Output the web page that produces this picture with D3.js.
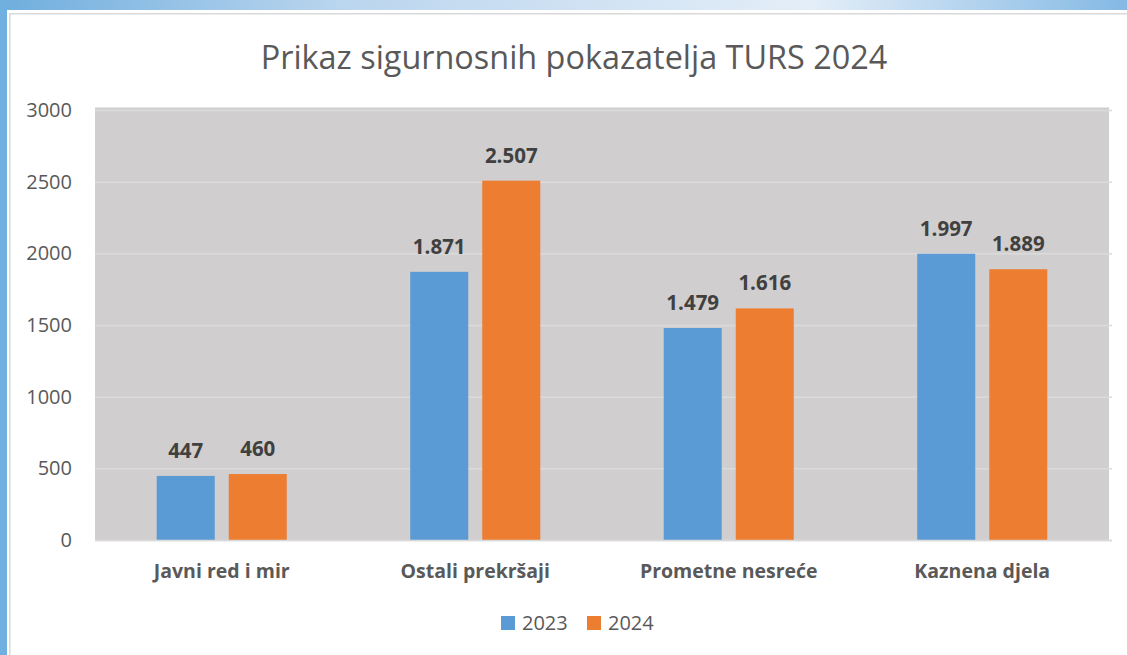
<!DOCTYPE html>
<html>
<head>
<meta charset="utf-8">
<script src="https://cdn.jsdelivr.net/npm/d3@7"></script>
<style>
  html, body { margin: 0; padding: 0; background: #ffffff; }
  svg { display: block; }
</style>
</head>
<body>
<svg id="chart" width="1127" height="655"></svg>
<script>
const title = "Prikaz sigurnosnih pokazatelja TURS 2024";
const categories = ["Javni red i mir", "Ostali prekršaji", "Prometne nesreće", "Kaznena djela"];
const seriesNames = ["2023", "2024"];
const values2023 = [447, 1871, 1479, 1997];
const values2024 = [460, 2507, 1616, 1889];
const valueLabels2023 = ["447", "1.871", "1.479", "1.997"];
const valueLabels2024 = ["460", "2.507", "1.616", "1.889"];
const yTicks = [0, 500, 1000, 1500, 2000, 2500, 3000];
const colors = ["#5B9BD5", "#ED7D31"];

const svg = d3.select("#chart");
const W = 1127, H = 655;
const font = "'Open Sans', 'Noto Sans', sans-serif";

// Frame
const defs = svg.append("defs");
const grad = defs.append("linearGradient").attr("id", "topGrad").attr("x1", "0").attr("x2", "1").attr("y1", "0").attr("y2", "0");
grad.append("stop").attr("offset", "0").attr("stop-color", "#6FAEDE");
grad.append("stop").attr("offset", "0.3").attr("stop-color", "#BAD5EE");
grad.append("stop").attr("offset", "0.72").attr("stop-color", "#E4EEF8");
grad.append("stop").attr("offset", "1").attr("stop-color", "#84B9E4");
svg.append("rect").attr("x", 0).attr("y", 0).attr("width", W).attr("height", 10).attr("fill", "url(#topGrad)");
svg.append("rect").attr("x", 0).attr("y", 0).attr("width", 7).attr("height", H).attr("fill", "#6FB0E0");
svg.append("rect").attr("x", 9).attr("y", 13).attr("width", W - 9).attr("height", 1.5).attr("fill", "#D9D9D9");
svg.append("rect").attr("x", 9).attr("y", 13).attr("width", 1.5).attr("height", H - 13).attr("fill", "#D9D9D9");

// Plot area
const plot = { left: 95, right: 1109, top: 110, bottom: 540 };
svg.append("rect").attr("x", plot.left).attr("y", plot.top - 2.5)
  .attr("width", plot.right - plot.left).attr("height", plot.bottom - plot.top + 2.5)
  .attr("fill", "#D0CECE");

const y = d3.scaleLinear().domain([0, 3000]).range([plot.bottom, plot.top]);
const x0 = d3.scaleBand().domain(categories).range([plot.left, plot.right]).padding(0);
const x1 = d3.scaleBand().domain(seriesNames).range([0, x0.bandwidth()])
  .paddingInner(14 / 72).paddingOuter(0.857);

// Gridlines
const yAxisGrid = d3.axisLeft(y).tickValues(yTicks).tickSize(-(plot.right - plot.left + 3)).tickFormat("");
const gGrid = svg.append("g").attr("transform", `translate(${plot.left},0)`).call(yAxisGrid);
gGrid.select(".domain").remove();
gGrid.selectAll(".tick line").attr("stroke", "#DBDBDB").attr("stroke-width", 1.5);

// Y tick labels
const yAxis = d3.axisLeft(y).tickValues(yTicks).tickSize(0).tickPadding(23).tickFormat(d3.format("d"));
const gY = svg.append("g").attr("transform", `translate(${plot.left},0)`).call(yAxis);
gY.select(".domain").remove();
gY.selectAll(".tick text").attr("font-family", font).attr("font-size", 20).attr("fill", "#595959");

// Bars
const data = categories.map((c, i) => ({ cat: c, vals: [
  { s: seriesNames[0], v: values2023[i], label: valueLabels2023[i], color: colors[0] },
  { s: seriesNames[1], v: values2024[i], label: valueLabels2024[i], color: colors[1] }
]}));
const groups = svg.append("g").selectAll("g").data(data).join("g")
  .attr("transform", d => `translate(${x0(d.cat)},0)`);
groups.selectAll("rect").data(d => d.vals).join("rect")
  .attr("x", d => x1(d.s)).attr("width", x1.bandwidth())
  .attr("y", d => y(d.v)).attr("height", d => y(0) - y(d.v))
  .attr("fill", d => d.color);
groups.selectAll("text").data(d => d.vals).join("text")
  .attr("x", d => x1(d.s) + x1.bandwidth() / 2)
  .attr("y", d => y(d.v) - 18)
  .attr("text-anchor", "middle")
  .attr("font-family", font).attr("font-weight", "bold").attr("font-size", 20.5)
  .attr("fill", "#404040")
  .text(d => d.label);

// Baseline
svg.append("line").attr("x1", plot.left).attr("x2", plot.right + 3)
  .attr("y1", plot.bottom + 0.5).attr("y2", plot.bottom + 0.5)
  .attr("stroke", "#D9D9D9").attr("stroke-width", 1.5);

// X labels
const xAxis = d3.axisBottom(x0).tickSize(0).tickPadding(24);
const gX = svg.append("g").attr("transform", `translate(0,${plot.bottom})`).call(xAxis);
gX.select(".domain").remove();
gX.selectAll(".tick text").attr("font-family", font).attr("font-weight", "bold")
  .attr("font-size", 19.5).attr("fill", "#595959");

// Title
svg.append("text").attr("x", (plot.left + plot.right) / 2 - 28).attr("y", 69)
  .attr("text-anchor", "middle").attr("font-family", font).attr("font-size", 32.4)
  .attr("fill", "#595959").text(title);

// Legend
const legendItems = [
  { name: seriesNames[0], color: colors[0], x: 501 },
  { name: seriesNames[1], color: colors[1], x: 587 }
];
const lg = svg.append("g").selectAll("g").data(legendItems).join("g")
  .attr("transform", d => `translate(${d.x},616)`);
lg.append("rect").attr("width", 14).attr("height", 14).attr("fill", d => d.color);
lg.append("text").attr("x", 21).attr("y", 14).attr("font-family", font).attr("font-size", 20)
  .attr("fill", "#595959").text(d => d.name);
</script>
</body>
</html>
